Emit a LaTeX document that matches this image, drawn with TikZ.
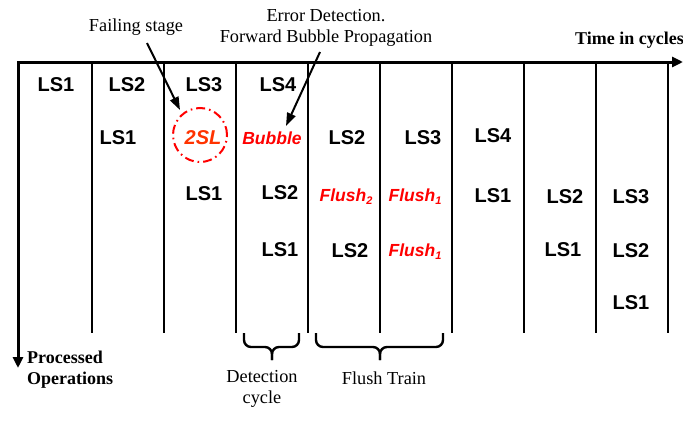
\documentclass[tikz,border=0pt]{standalone}
\usepackage{fontspec}
\setmainfont{Liberation Serif}
\setsansfont{Liberation Sans}
\usetikzlibrary{arrows.meta}
\definecolor{errred}{RGB}{255,0,0}
\definecolor{slorange}{RGB}{255,51,0}
\begin{document}
\begin{tikzpicture}[x=1pt,y=-1pt,
  ls/.style={font=\sffamily\bfseries\fontsize{20}{22}\selectfont, inner sep=0pt},
  redtxt/.style={font=\sffamily\bfseries\itshape\fontsize{17.5}{19}\selectfont, text=errred, inner sep=0pt},
  ann/.style={font=\fontsize{18.3}{21.5}\selectfont, align=center, inner sep=0pt},
  annb/.style={font=\bfseries\fontsize{18}{21}\selectfont, inner sep=0pt},
  axisline/.style={line width=3pt, {Triangle[length=11pt,width=10pt]}-{Triangle[length=11pt,width=10pt]}},
  gridline/.style={line width=1.8pt},
  annarrow/.style={line width=2pt, -{Triangle[length=13pt,width=9pt]}},
  bracepath/.style={line width=2.4pt, rounded corners=7pt},
]
\useasboundingbox (0,0) rectangle (683,423);
% axes
\coordinate (o) at (18,62);
\coordinate (xend) at (683,62);
\coordinate (yend) at (18,368);
\draw[axisline] (yend) -- (o) -- (xend);
% grid lines
\foreach \i/\x in {1/92,2/164,3/236,4/308,5/380,6/452,7/524,8/596,9/668}{
  \coordinate (t\i) at (\x,62);
  \coordinate (b\i) at (\x,333);
  \draw[gridline] (t\i) -- (b\i);
}
% column 1
\node[ls] (c1r1) at (56,85) {LS1};
% column 2
\node[ls] (c2r1) at (127,85) {LS2};
\node[ls] (c2r2) at (118,138) {LS1};
% column 3
\node[ls] (c3r1) at (204,85) {LS3};
\node[draw=errred, dash pattern=on 9pt off 4pt on 1.6pt off 4pt, line width=2pt, circle, minimum size=54pt, inner sep=0pt] (fail) at (200,135) {};
\node[font=\sffamily\bfseries\itshape\fontsize{20}{22}\selectfont, text=slorange, inner sep=0pt] (c3r2) at (203,138) {2SL};
\node[ls] (c3r3) at (204,194) {LS1};
% column 4
\node[ls] (c4r1) at (278,85) {LS4};
\node[redtxt] (c4r2) at (272,138) {Bubble};
\node[ls] (c4r3) at (280,193) {LS2};
\node[ls] (c4r4) at (280,250) {LS1};
% column 5
\node[ls] (c5r2) at (347,138) {LS2};
\node[redtxt] (c5r3) at (346,197) {Flush\raisebox{-0.35ex}{\fontsize{11}{11}\selectfont 2}};
\node[ls] (c5r4) at (350,251) {LS2};
% column 6
\node[ls] (c6r2) at (423,138) {LS3};
\node[redtxt] (c6r3) at (415,197) {Flush\raisebox{-0.35ex}{\fontsize{11}{11}\selectfont 1}};
\node[redtxt] (c6r4) at (415,252) {Flush\raisebox{-0.35ex}{\fontsize{11}{11}\selectfont 1}};
% column 7
\node[ls] (c7r2) at (493,136) {LS4};
\node[ls] (c7r3) at (493,196) {LS1};
% column 8
\node[ls] (c8r3) at (565,197) {LS2};
\node[ls] (c8r4) at (563,250) {LS1};
% column 9
\node[ls] (c9r3) at (631,197) {LS3};
\node[ls] (c9r4) at (631,251) {LS2};
\node[ls] (c9r5) at (631,303) {LS1};
% annotations
\node[ann] (failtxt) at (136,27) {Failing stage};
\node[ann] (errtxt) at (326,28) {Error Detection.\\Forward Bubble Propagation};
\node[annb, anchor=east] (timetxt) at (684,40) {Time in cycles};
\node[annb, align=left, anchor=west] (proctxt) at (27,369.5) {Processed\\Operations};
\coordinate (fa) at (147,43);
\coordinate (fb) at (180,110);
\draw[annarrow] (fa) -- (fb);
\coordinate (ea) at (320,52);
\coordinate (eb) at (286,126);
\draw[annarrow] (ea) -- (eb);
% braces
\coordinate (d1) at (244,333);
\coordinate (d2) at (299,333);
\coordinate (dh) at (272,347);
\coordinate (dm) at (272,360);
\draw[bracepath] (d1) -- (d1 |- dh) -- (dh) -- (dm);
\draw[bracepath] (d2) -- (d2 |- dh) -- (dh) -- (dm);
\coordinate (f1) at (316,333);
\coordinate (f2) at (443,333);
\coordinate (fh) at (380,347);
\coordinate (fm) at (380,360);
\draw[bracepath] (f1) -- (f1 |- fh) -- (fh) -- (fm);
\draw[bracepath] (f2) -- (f2 |- fh) -- (fh) -- (fm);
\node[ann] (dettxt) at (262,389) {Detection\\cycle};
\node[ann] (flushtxt) at (384,378) {Flush Train};
\end{tikzpicture}
\end{document}
